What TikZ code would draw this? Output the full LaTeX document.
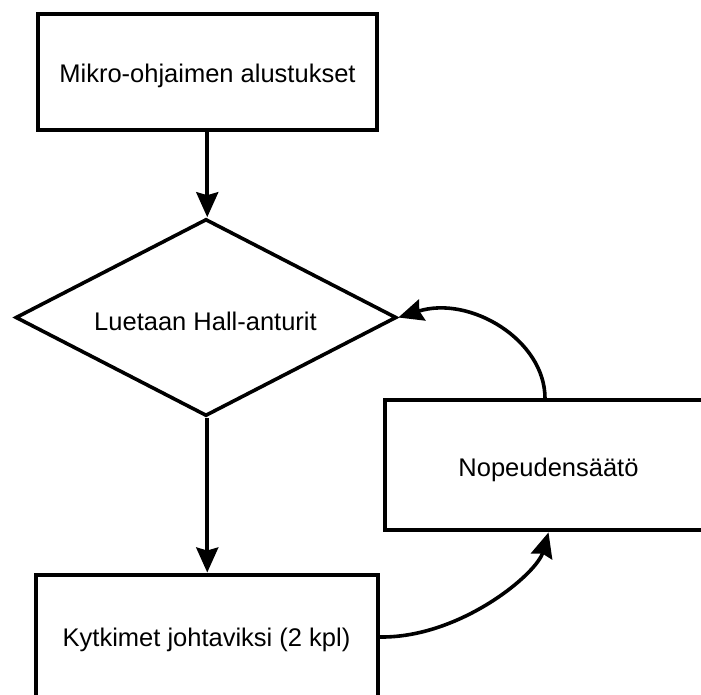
\documentclass[tikz,border=0pt]{standalone}
\usepackage{fontspec}
\setmainfont{Liberation Sans}
\usetikzlibrary{arrows.meta,shapes.geometric}
\begin{document}
\begin{tikzpicture}[x=1pt,y=-1pt,
  box/.style={draw, line width=4pt, rectangle, inner sep=0pt},
  dia/.style={draw, line width=3.6pt, diamond, inner sep=0pt},
  lbl/.style={font=\fontsize{25.5}{30}\selectfont, anchor=base, inner sep=0pt},
  conn/.style={line width=3.6pt, -{Stealth[length=25pt,width=22pt,inset=3pt]}}]
\useasboundingbox (0,0) rectangle (701,695);
\node[box, minimum width=339.5pt, minimum height=116pt] (init) at (207.25,72.5) {};
\node[dia, minimum width=381pt, minimum height=197pt] (hall) at (206,317.5) {};
\node[box, minimum width=328pt, minimum height=130pt] (speed) at (548.5,465.4) {};
\node[box, minimum width=342.5pt, minimum height=125pt] (switch) at (206.75,637) {};
\node[lbl] (tinit) at (207.5,83) {Mikro-ohjaimen alustukset};
\node[lbl] (thall) at (205.5,330) {Luetaan Hall-anturit};
\node[lbl] (tspeed) at (548.5,476) {Nopeudensäätö};
\node[lbl] (tswitch) at (206.5,646.5) {Kytkimet johtaviksi (2 kpl)};
\draw[conn] (init.south) -- (init.south |- hall.north);
\draw[conn] (hall.south -| init.south) -- (init.south |- switch.north);
\draw[conn] (switch.east) .. controls (460,638) and (536.5,574) .. (speed.south);
\draw[conn] ([xshift=-3.5pt]speed.north) .. controls (545,340) and (470,295) .. (hall.east);
\end{tikzpicture}
\end{document}
